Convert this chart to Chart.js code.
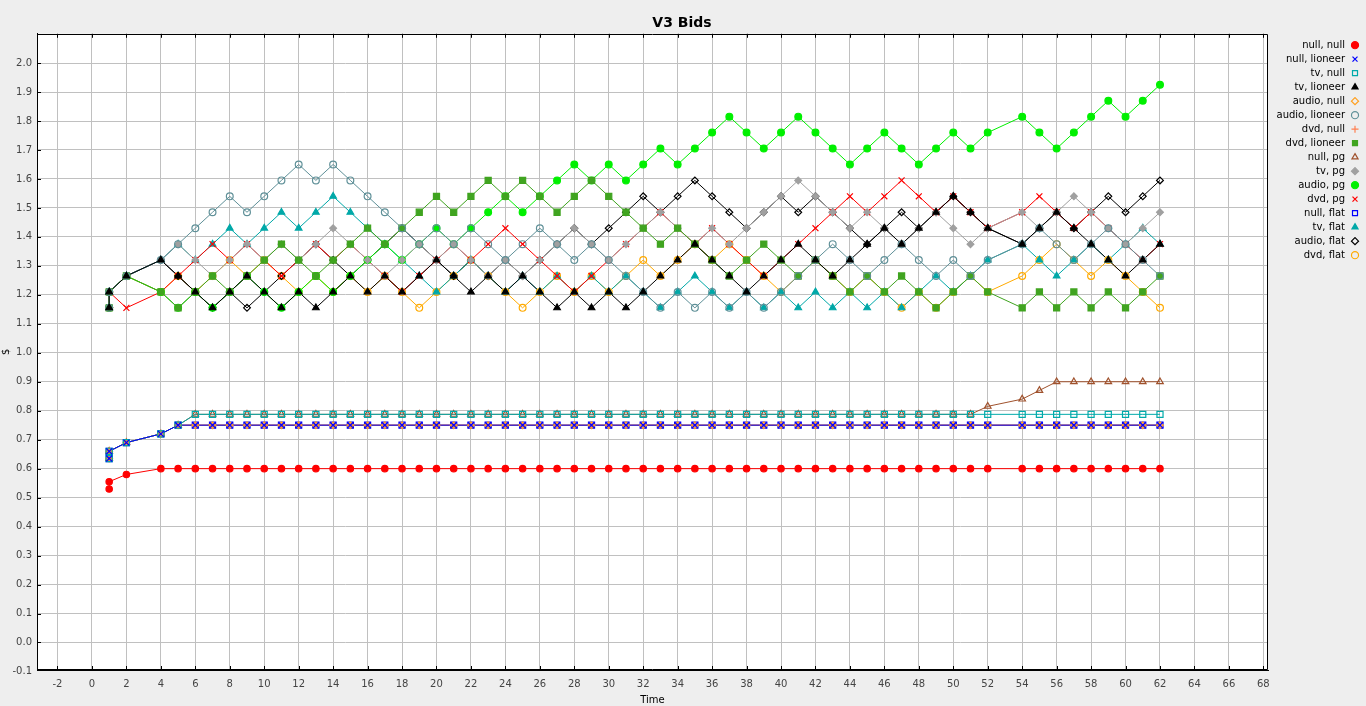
<!DOCTYPE html>
<html><head><meta charset="utf-8">
<script src="https://cdn.jsdelivr.net/npm/chart.js@4/dist/chart.umd.min.js"></script>
<style>html,body{margin:0;padding:0;background:#eeeeee;overflow:hidden}canvas{display:block}</style>
</head><body>
<canvas id="c" width="1366" height="706"></canvas>
<script>
// ---- data ----
const times = [1,1,2,4,5,6,7,8,9,10,11,12,13,14,15,16,17,18,19,20,21,22,23,24,25,26,27,28,29,30,31,32,33,34,35,36,37,38,39,40,41,42,43,44,45,46,47,48,49,50,51,52,54,55,56,57,58,59,60,61,62];
const xTickValues = [-2,0,2,4,6,8,10,12,14,16,18,20,22,24,26,28,30,32,34,36,38,40,42,44,46,48,50,52,54,56,58,60,62,64,66,68];
const yTickValues = [-0.1,0.0,0.1,0.2,0.3,0.4,0.5,0.6,0.7,0.8,0.9,1.0,1.1,1.2,1.3,1.4,1.5,1.6,1.7,1.8,1.9,2.0];

const nullNull = [0.53,0.555,0.58,0.6,0.6,0.6,0.6,0.6,0.6,0.6,0.6,0.6,0.6,0.6,0.6,0.6,0.6,0.6,0.6,0.6,0.6,0.6,0.6,0.6,0.6,0.6,0.6,0.6,0.6,0.6,0.6,0.6,0.6,0.6,0.6,0.6,0.6,0.6,0.6,0.6,0.6,0.6,0.6,0.6,0.6,0.6,0.6,0.6,0.6,0.6,0.6,0.6,0.6,0.6,0.6,0.6,0.6,0.6,0.6,0.6,0.6];
const nullLioneer = [0.635,0.66,0.69,0.72,0.75,0.75,0.75,0.75,0.75,0.75,0.75,0.75,0.75,0.75,0.75,0.75,0.75,0.75,0.75,0.75,0.75,0.75,0.75,0.75,0.75,0.75,0.75,0.75,0.75,0.75,0.75,0.75,0.75,0.75,0.75,0.75,0.75,0.75,0.75,0.75,0.75,0.75,0.75,0.75,0.75,0.75,0.75,0.75,0.75,0.75,0.75,0.75,0.75,0.75,0.75,0.75,0.75,0.75,0.75,0.75,0.75];
const tvNull = [0.635,0.66,0.69,0.72,0.75,0.7875,0.7875,0.7875,0.7875,0.7875,0.7875,0.7875,0.7875,0.7875,0.7875,0.7875,0.7875,0.7875,0.7875,0.7875,0.7875,0.7875,0.7875,0.7875,0.7875,0.7875,0.7875,0.7875,0.7875,0.7875,0.7875,0.7875,0.7875,0.7875,0.7875,0.7875,0.7875,0.7875,0.7875,0.7875,0.7875,0.7875,0.7875,0.7875,0.7875,0.7875,0.7875,0.7875,0.7875,0.7875,0.7875,0.7875,0.7875,0.7875,0.7875,0.7875,0.7875,0.7875,0.7875,0.7875,0.7875];
const tvLioneer = [1.155,1.21,1.265, 1.32,1.265,1.21,1.155,1.21, 1.265,1.21,1.155,1.21,1.155, 1.21,1.265,1.21,1.265,1.21, 1.265,1.32,1.265,1.21,1.265, 1.21,1.265,1.21,1.155,1.21, 1.155,1.21,1.155,1.21,1.265, 1.32,1.375,1.32,1.265,1.21, 1.265,1.32,1.375,1.32,1.265, 1.32,1.375,1.43,1.375,1.43, 1.485,1.54,1.485,1.43, 1.375,1.43,1.485,1.43,1.375,1.32,1.265,1.32,1.375];
const audioNull = [0.635,0.66,0.69,0.72,0.75,0.75,0.75,0.75,0.75,0.75,0.75,0.75,0.75,0.75,0.75,0.75,0.75,0.75,0.75,0.75,0.75,0.75,0.75,0.75,0.75,0.75,0.75,0.75,0.75,0.75,0.75,0.75,0.75,0.75,0.75,0.75,0.75,0.75,0.75,0.75,0.75,0.75,0.75,0.75,0.75,0.75,0.75,0.75,0.75,0.75,0.75,0.75,0.75,0.75,0.75,0.75,0.75,0.75,0.75,0.75,0.75];
const audioLioneer = [1.155,1.21,1.265, 1.32,1.375,1.43,1.485,1.54, 1.485,1.54,1.595,1.65,1.595, 1.65,1.595,1.54,1.485,1.43, 1.375,1.43,1.375,1.43,1.375, 1.32,1.375,1.43,1.375,1.32, 1.375,1.32,1.265,1.21,1.155, 1.21,1.155,1.21,1.155,1.21, 1.155,1.21,1.265,1.32,1.375, 1.32,1.265,1.32,1.375,1.32, 1.265,1.32,1.265,1.32, 1.375,1.43,1.375,1.32,1.375,1.43,1.375,1.32,1.265];
const dvdNull = [0.635,0.66,0.69,0.72,0.75,0.75,0.75,0.75,0.75,0.75,0.75,0.75,0.75,0.75,0.75,0.75,0.75,0.75,0.75,0.75,0.75,0.75,0.75,0.75,0.75,0.75,0.75,0.75,0.75,0.75,0.75,0.75,0.75,0.75,0.75,0.75,0.75,0.75,0.75,0.75,0.75,0.75,0.75,0.75,0.75,0.75,0.75,0.75,0.75,0.75,0.75,0.75,0.75,0.75,0.75,0.75,0.75,0.75,0.75,0.75,0.75];
const dvdLioneer = [1.155,1.21,1.265, 1.21,1.155,1.21,1.265,1.21, 1.265,1.32,1.375,1.32,1.265, 1.32,1.375,1.43,1.375,1.43, 1.485,1.54,1.485,1.54,1.595, 1.54,1.595,1.54,1.485,1.54, 1.595,1.54,1.485,1.43,1.375, 1.43,1.375,1.32,1.265,1.32, 1.375,1.32,1.265,1.32,1.265, 1.21,1.265,1.21,1.265,1.21, 1.155,1.21,1.265,1.21, 1.155,1.21,1.155,1.21,1.155,1.21,1.155,1.21,1.265];
const nullPg = [0.635,0.66,0.69,0.72,0.75,0.7875,0.7875,0.7875,0.7875,0.7875,0.7875,0.7875,0.7875,0.7875,0.7875,0.7875,0.7875,0.7875,0.7875,0.7875,0.7875,0.7875,0.7875,0.7875,0.7875,0.7875,0.7875,0.7875,0.7875,0.7875,0.7875,0.7875,0.7875,0.7875,0.7875,0.7875,0.7875,0.7875,0.7875,0.7875,0.7875,0.7875,0.7875,0.7875,0.7875,0.7875,0.7875,0.7875,0.7875,0.7875,0.7875,0.815,0.84,0.87,0.9,0.9,0.9,0.9,0.9,0.9,0.9];
const tvPg = [1.155,1.21,1.265, 1.32,1.375,1.32,1.265,1.32, 1.375,1.32,1.375,1.32,1.375, 1.43,1.375,1.32,1.265,1.32, 1.375,1.32,1.375,1.32,1.265, 1.32,1.265,1.32,1.375,1.43, 1.375,1.32,1.375,1.43,1.485, 1.43,1.375,1.43,1.375,1.43, 1.485,1.54,1.595,1.54,1.485, 1.43,1.485,1.43,1.375,1.43, 1.485,1.43,1.375,1.43, 1.485,1.43,1.485,1.54,1.485,1.43,1.375,1.43,1.485];
const audioPg = [1.155,1.21,1.265, 1.21,1.155,1.21,1.155,1.21, 1.265,1.21,1.155,1.21,1.265, 1.21,1.265,1.32,1.375,1.32, 1.375,1.43,1.375,1.43,1.485, 1.54,1.485,1.54,1.595,1.65, 1.595,1.65,1.595,1.65,1.705, 1.65,1.705,1.76,1.815,1.76, 1.705,1.76,1.815,1.76,1.705, 1.65,1.705,1.76,1.705,1.65, 1.705,1.76,1.705,1.76, 1.815,1.76,1.705,1.76,1.815,1.87,1.815,1.87,1.925];
const dvdPg = [1.155,1.21,1.155, 1.21,1.265,1.32,1.375,1.32, 1.375,1.32,1.265,1.32,1.375, 1.32,1.375,1.32,1.265,1.21, 1.265,1.32,1.375,1.32,1.375, 1.43,1.375,1.32,1.265,1.21, 1.265,1.32,1.375,1.43,1.485, 1.43,1.375,1.43,1.375,1.32, 1.265,1.32,1.375,1.43,1.485, 1.54,1.485,1.54,1.595,1.54, 1.485,1.54,1.485,1.43, 1.485,1.54,1.485,1.43,1.485,1.43,1.375,1.32,1.375];
const nullFlat = [0.635,0.66,0.69,0.72,0.75,0.75,0.75,0.75,0.75,0.75,0.75,0.75,0.75,0.75,0.75,0.75,0.75,0.75,0.75,0.75,0.75,0.75,0.75,0.75,0.75,0.75,0.75,0.75,0.75,0.75,0.75,0.75,0.75,0.75,0.75,0.75,0.75,0.75,0.75,0.75,0.75,0.75,0.75,0.75,0.75,0.75,0.75,0.75,0.75,0.75,0.75,0.75,0.75,0.75,0.75,0.75,0.75,0.75,0.75,0.75,0.75];
const tvFlat = [1.155,1.21,1.265, 1.32,1.375,1.32,1.375,1.43, 1.375,1.43,1.485,1.43,1.485, 1.54,1.485,1.43,1.375,1.32, 1.265,1.21,1.265,1.32,1.265, 1.21,1.265,1.21,1.265,1.21, 1.265,1.21,1.265,1.21,1.155, 1.21,1.265,1.21,1.155,1.21, 1.155,1.21,1.155,1.21,1.155, 1.21,1.155,1.21,1.155,1.21, 1.265,1.21,1.265,1.32, 1.375,1.32,1.265,1.32,1.375,1.32,1.375,1.43,1.375];
const audioFlat = [1.155,1.21,1.265, 1.32,1.265,1.21,1.155,1.21, 1.155,1.21,1.265,1.32,1.375, 1.32,1.265,1.32,1.375,1.43, 1.375,1.32,1.265,1.32,1.265, 1.32,1.265,1.32,1.375,1.43, 1.375,1.43,1.485,1.54,1.485, 1.54,1.595,1.54,1.485,1.43, 1.485,1.54,1.485,1.54,1.485, 1.43,1.375,1.43,1.485,1.43, 1.485,1.54,1.485,1.43, 1.375,1.43,1.485,1.43,1.485,1.54,1.485,1.54,1.595];
const dvdFlat = [1.155,1.21,1.265, 1.21,1.265,1.21,1.265,1.32, 1.265,1.32,1.265,1.21,1.265, 1.21,1.265,1.21,1.265,1.21, 1.155,1.21,1.265,1.32,1.265, 1.21,1.155,1.21,1.265,1.21, 1.265,1.21,1.265,1.32,1.265, 1.32,1.375,1.32,1.375,1.32, 1.265,1.21,1.265,1.32,1.265, 1.21,1.265,1.21,1.155,1.21, 1.155,1.21,1.265,1.21, 1.265,1.32,1.375,1.32,1.265,1.32,1.265,1.21,1.155];

const seriesNames = ['null, null','null, lioneer','tv, null','tv, lioneer','audio, null','audio, lioneer','dvd, null','dvd, lioneer','null, pg','tv, pg','audio, pg','dvd, pg','null, flat','tv, flat','audio, flat','dvd, flat'];
const seriesValues = [nullNull,nullLioneer,tvNull,tvLioneer,audioNull,audioLioneer,dvdNull,dvdLioneer,nullPg,tvPg,audioPg,dvdPg,nullFlat,tvFlat,audioFlat,dvdFlat];

// ---- styles ----
const seriesStyles = [
  {color:'#ff0000', shape:'circle',   r:3.2, filled:true},
  {color:'#0000ff', shape:'crossRot', r:4.2, filled:false},
  {color:'#00aaaa', shape:'rect',     r:4.3, filled:false},
  {color:'#000000', shape:'triangle', r:3.8, filled:true},
  {color:'#ffa020', shape:'rectRot',  r:3.4, filled:false},
  {color:'#5f9098', shape:'circle',   r:3.4, filled:false},
  {color:'#ff7f50', shape:'cross',    r:3.4, filled:false},
  {color:'#40a420', shape:'rect',     r:4.3, filled:true},
  {color:'#a0522d', shape:'triangle', r:3.8, filled:false},
  {color:'#a0a0a0', shape:'rectRot',  r:3.4, filled:true},
  {color:'#00f000', shape:'circle',   r:3.4, filled:true},
  {color:'#ff0000', shape:'crossRot', r:4.2, filled:false},
  {color:'#0000ff', shape:'rect',     r:4.3, filled:false},
  {color:'#00a8a8', shape:'triangle', r:3.8, filled:true},
  {color:'#000000', shape:'rectRot',  r:3.4, filled:false},
  {color:'#ffaa00', shape:'circle',   r:3.4, filled:false}
];

const datasets = [];
seriesNames.forEach((name, i) => {
  const st = seriesStyles[i];
  const pts = times.map((t, j) => ({x: t, y: seriesValues[i][j]}));
  datasets.push({
    label: name, data: pts, showLine: false, order: i,
    pointStyle: st.shape, pointRadius: st.r, pointHoverRadius: st.r,
    pointBackgroundColor: st.filled ? st.color : 'rgba(0,0,0,0)',
    pointBorderColor: st.color, pointBorderWidth: 1.2,
    backgroundColor: st.filled ? st.color : 'rgba(0,0,0,0)', borderColor: st.color
  });
  datasets.push({
    label: name, isLine: true, data: pts, showLine: true, order: 100 + i,
    pointRadius: 0, pointHoverRadius: 0, borderColor: st.color, borderWidth: 1,
    backgroundColor: st.color, fill: false, tension: 0
  });
});

const FONT = 'DejaVu Sans';

const framePlugin = {
  id: 'frame',
  beforeDraw(chart) {
    const {ctx, chartArea: a} = chart;
    ctx.save();
    ctx.fillStyle = '#ffffff';
    ctx.fillRect(a.left, a.top, a.right - a.left, a.bottom - a.top);
    ctx.restore();
  },
  afterDraw(chart) {
    const {ctx, chartArea: a} = chart;
    const xs = chart.scales.x, ys = chart.scales.y;
    ctx.save();
    ctx.strokeStyle = '#000000';
    ctx.lineWidth = 1;
    ctx.beginPath();
    ctx.rect(Math.round(a.left) + 0.5, Math.round(a.top) + 0.5, Math.round(a.right - a.left) - 1, Math.round(a.bottom - a.top) - 1);
    xTickValues.forEach(v => {
      const px = Math.round(xs.getPixelForValue(v)) + 0.5;
      ctx.moveTo(px, a.top); ctx.lineTo(px, a.top + 4);
      ctx.moveTo(px, a.bottom - 4); ctx.lineTo(px, a.bottom);
    });
    yTickValues.forEach(v => {
      const py = Math.round(ys.getPixelForValue(v)) + 0.5;
      if (py < a.top || py > a.bottom) return;
      ctx.moveTo(a.left, py); ctx.lineTo(a.left + 4, py);
    });
    ctx.stroke();
    ctx.restore();
  }
};

new Chart(document.getElementById('c'), {
  type: 'scatter',
  data: { datasets },
  plugins: [framePlugin],
  options: {
    responsive: false, animation: false, devicePixelRatio: 1, events: [],
    layout: { padding: { left: 0, right: 2, top: 0, bottom: 0 } },
    plugins: {
      tooltip: { enabled: false },
      title: { display: true, text: 'V3 Bids', color: '#000000', font: { family: FONT, size: 14, weight: 'bold' }, padding: { top: 15, bottom: 2 } },
      legend: {
        position: 'right', align: 'start', rtl: true, textDirection: 'ltr', fullSize: false, maxWidth: 96,
        title: { display: true, text: ' ', font: { size: 2 }, padding: 0 },
        labels: {
          usePointStyle: true, boxWidth: 13, boxHeight: 5, padding: 4, color: '#000000',
          font: { family: FONT, size: 10 },
          filter: (item, data) => !data.datasets[item.datasetIndex].isLine
        }
      }
    },
    scales: {
      x: {
        type: 'linear', min: -3.19, max: 68.27,
        afterBuildTicks: s => { s.ticks = xTickValues.map(v => ({ value: v })); },
        afterFit: s => { s.height = 36; },
        ticks: { autoSkip: false, maxRotation: 0, padding: 8, color: '#444444', font: { family: FONT, size: 10 }, callback: v => String(v) },
        grid: { color: '#c0c0c0', lineWidth: 1, drawTicks: false },
        border: { display: true, color: '#000000' },
        title: { display: true, text: 'Time', color: '#000000', font: { family: FONT, size: 10 }, padding: { top: 1, bottom: 0 } }
      },
      y: {
        type: 'linear', min: -0.095, max: 2.101,
        afterBuildTicks: s => { s.ticks = yTickValues.map(v => ({ value: v })); },
        afterFit: s => { s.width = 37; },
        ticks: { autoSkip: false, padding: 5, color: '#444444', font: { family: FONT, size: 10 }, callback: v => Number(v).toFixed(1) },
        grid: { color: c => (c.tick && c.tick.value < -0.05) ? 'rgba(0,0,0,0)' : '#c0c0c0', lineWidth: 1, drawTicks: false },
        border: { display: true, color: '#000000' },
        title: { display: true, text: '$', color: '#000000', font: { family: FONT, size: 10 }, padding: { top: 0, bottom: 0 } }
      }
    }
  }
});
</script>
</body></html>
